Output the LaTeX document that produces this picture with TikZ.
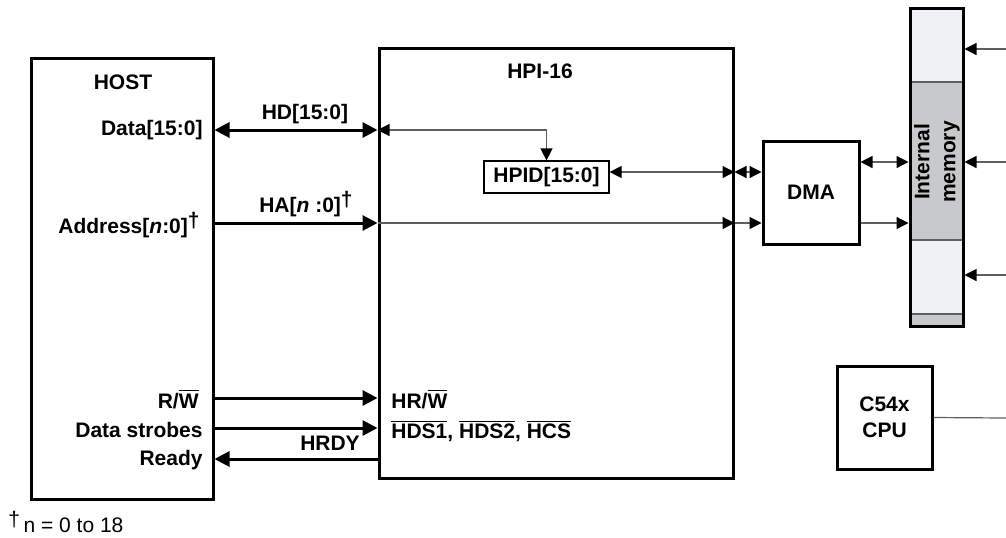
\documentclass[tikz,border=0pt]{standalone}
\usepackage{fontspec}
\setmainfont{Liberation Sans}
\usetikzlibrary{arrows.meta,positioning,calc}
\definecolor{memlight}{RGB}{240,241,243}
\definecolor{memgray}{RGB}{200,201,203}
\definecolor{wiregray}{RGB}{95,95,95}
\newcommand{\fnmark}{\raisebox{3pt}{†}}

\begin{document}
\begin{tikzpicture}[x=0.5pt,y=-0.5pt,font=\fontsize{10.5}{13}\selectfont\bfseries,
  bigtip/.tip={Triangle[length=7.5pt,width=7.5pt]},
  smalltip/.tip={Triangle[length=6pt,width=6pt,black]},
  blk/.style={draw,line width=1.5pt,inner sep=0,align=center},
  bus/.style={line width=1.5pt},
  wire/.style={line width=0.6pt,draw=wiregray},
  lbl/.style={inner sep=0}]
  \useasboundingbox (0,0) rectangle (1006,537);
  % pixel grid: x to the right, y downward (1 unit = 1px of the reference)
  % signal rows
  \coordinate (rowHD) at (0,130);
  \coordinate (rowPD) at (0,172);
  \coordinate (rowHA) at (0,223);
  \coordinate (rowMD) at (0,162);
  \coordinate (rowRW) at (0,398);
  \coordinate (rowDS) at (0,428);
  \coordinate (rowRY) at (0,459);
  % main blocks
  \node[blk,minimum width=91pt,minimum height=220.5pt] (host) at (122,278.5) {};
  \node[lbl] (hostlbl) at (123,82) {HOST};
  \node[blk,minimum width=177pt,minimum height=215pt] (hpi) at (556,263) {};
  \node[lbl] (hpilbl) at (540,71) {HPI-16};
  \node[draw,line width=0.6pt,inner sep=0,minimum width=62.5pt,minimum height=16pt] (hpid) at (546.5,177) {HPID[15:0]};
  \node[blk,minimum width=48pt,minimum height=51.5pt] (dma) at (811,192.5) {DMA};
  \node[blk,minimum width=47.5pt,minimum height=51.5pt] (cpu) at (884.5,417.5) {C54x\\CPU};
  % internal memory column
  \fill[memlight] (910,8) rectangle (963,326);
  \filldraw[fill=memgray,draw=wiregray,line width=0.6pt] (910,82) rectangle (963,240);
  \filldraw[fill=memgray,draw=wiregray,line width=0.6pt] (910,314) rectangle (963,326);
  \node[blk,minimum width=26.5pt,minimum height=159pt] (mem) at (936.5,167) {};
  \node[rotate=90,align=center,lbl] (memlbl) at (937,162) {Internal\\memory};
  % host side pins
  \node[lbl,anchor=east] (datpin) at (203,130) {Data[15:0]};
  \node[lbl,anchor=east] (adrpin) at (200,225) {Address[\textit{n}:0]\fnmark};
  \node[lbl,anchor=east] (rwpin) at (199,399) {R/$\overline{\mbox{\bfseries W}}$};
  \node[lbl,anchor=east] (dspin) at (203,430) {Data strobes};
  \node[lbl,anchor=east] (rdypin) at (203,460) {Ready};
  % bus labels
  \node[lbl] (hdlbl) at (305,114) {HD[15:0]};
  \node[lbl] (halbl) at (306,204) {HA[\textit{n} :0]\fnmark};
  \node[lbl] (hrdylbl) at (330,443) {HRDY};
  \node[lbl,anchor=west] (hrwlbl) at (391,399) {HR/$\overline{\mbox{\bfseries W}}$};
  \node[lbl,anchor=west] (hdslbl) at (391,431) {$\overline{\mbox{\bfseries HDS1}}$, $\overline{\mbox{\bfseries HDS2}}$, $\overline{\mbox{\bfseries HCS}}$};
  % host <-> HPI
  \draw[bus,{bigtip}-{bigtip}] (host.east |- rowHD) -- (hpi.west |- rowHD);
  \draw[bus,-{bigtip}] (host.east |- rowHA) -- (hpi.west |- rowHA);
  \draw[bus,-{bigtip}] (host.east |- rowRW) -- (hpi.west |- rowRW);
  \draw[bus,-{bigtip}] (host.east |- rowDS) -- (hpi.west |- rowDS);
  \draw[bus,-{bigtip}] (hpi.west |- rowRY) -- (host.east |- rowRY);
  % inside HPI
  \draw[wire,{smalltip}-{smalltip}] (hpi.west |- rowHD) -| (hpid.north);
  \draw[wire,{smalltip}-{smalltip}] (hpid.east |- rowPD) -- (hpi.east |- rowPD);
  \draw[wire,-{smalltip}] (hpi.west |- rowHA) -- (hpi.east |- rowHA);
  % HPI -> DMA -> memory
  \draw[wire,{smalltip}-{smalltip}] (hpi.east |- rowPD) -- (dma.west |- rowPD);
  \draw[wire,-{smalltip}] (hpi.east |- rowHA) -- (dma.west |- rowHA);
  \draw[wire,{smalltip}-{smalltip}] (dma.east |- rowMD) -- (mem.west |- rowMD);
  \draw[wire,-{smalltip}] (dma.east |- rowHA) -- (mem.west |- rowHA);
  % other memory ports
  \foreach \k/\yy in {1/49,2/162,3/275}{
    \coordinate (memin\k) at (1006,\yy);
    \draw[wire,-{smalltip}] (memin\k) -- (mem.east |- memin\k);}
  \coordinate (cpuout) at (1006,418);
  \draw[wire] (cpu.east) -- (cpuout);
  % footnote
  \node[lbl,anchor=west,font=\fontsize{10.5}{13}\selectfont] (fnote) at (8,522) {\fnmark\,n = 0 to 18};
\end{tikzpicture}
\end{document}
